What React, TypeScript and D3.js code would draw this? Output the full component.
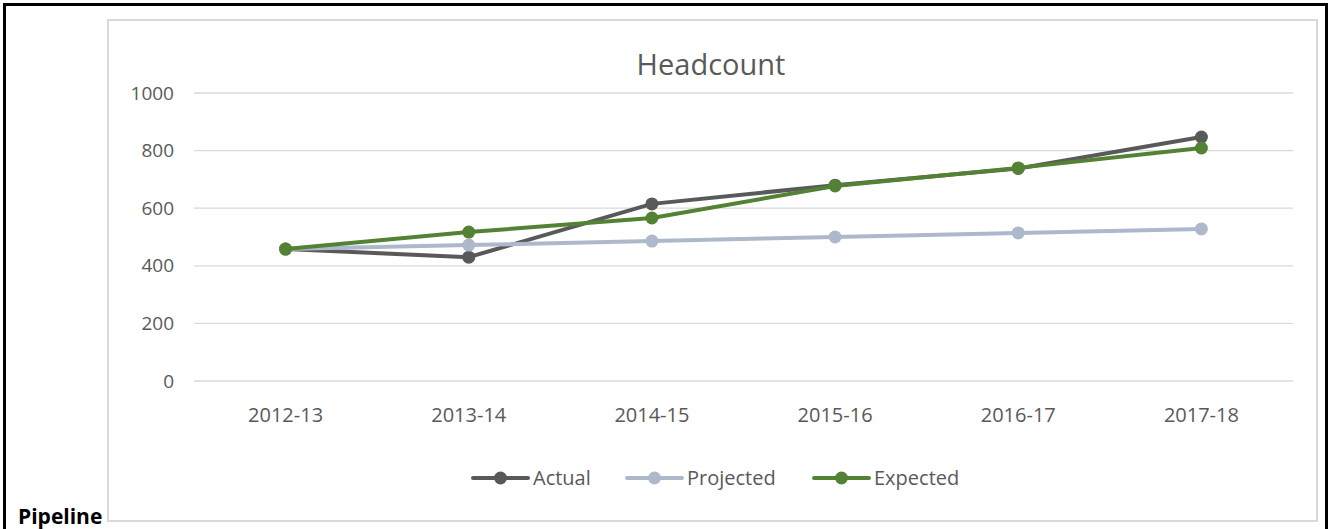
import { useEffect, useRef } from "react";
import * as d3 from "d3";

const categories = ["2012-13", "2013-14", "2014-15", "2015-16", "2016-17", "2017-18"];
const actual = [458, 430, 615, 680, 738, 847];
const projected = [458, 472, 486, 500, 514, 528];
const expected = [458, 517, 566, 677, 740, 809];
const yTicks = [0, 200, 400, 600, 800, 1000];

const width = 1331;
const height = 529;
const plotLeft = 194;
const plotRight = 1293;
const plotTop = 93;
const plotBottom = 381;
const font = "'Open Sans', 'Noto Sans', sans-serif";
const textColor = "#595959";

const series = [
  { name: "Actual", values: actual, color: "#595959" },
  { name: "Projected", values: projected, color: "#adb9ca" },
  { name: "Expected", values: expected, color: "#548235" },
];

const App = () => {
  const axisRef = useRef<SVGGElement>(null);

  const xScale = d3.scaleBand().domain(categories).range([plotLeft, plotRight]);
  const yScale = d3.scaleLinear().domain([0, 1000]).range([plotBottom, plotTop]);

  const line = d3
    .line<number>()
    .x((_, i) => (xScale(categories[i]) ?? 0) + xScale.bandwidth() / 2)
    .y((d) => yScale(d));

  useEffect(() => {
    // y axis labels only, gridlines are drawn below
    const g = d3.select(axisRef.current);
    g.call(
      d3.axisLeft(yScale).tickValues(yTicks).tickFormat(d3.format("d")).tickSize(0).tickPadding(20) as any
    );
    g.select(".domain").remove();
    g.selectAll("text")
      .attr("font-size", "19px")
      .attr("font-family", font)
      .attr("fill", textColor);
  }, []);

  // legend positions
  const legendX = [473, 627, 814];

  return (
    <svg
      width={width}
      height={height}
      style={{ position: "absolute", left: 0, top: 0 }}
    >
      <rect x={0} y={0} width={width} height={height} fill="#fff" />
      <rect x={4.5} y={4.5} width={1322} height={540} fill="none" stroke="#000" strokeWidth={3} />
      <rect x={108} y={20} width={1209} height={501} fill="#fff" stroke="#d9d9d9" strokeWidth={2} />

      <text x={711} y={75} textAnchor="middle" fontFamily={font} fontSize={29} fill={textColor}>
        Headcount
      </text>

      <g className="grid">
        {yTicks.map((t) => (
          <line key={t} x1={plotLeft} x2={plotRight} y1={yScale(t)} y2={yScale(t)} stroke="#d9d9d9" strokeWidth={1.3} />
        ))}
      </g>
      <g ref={axisRef} transform={`translate(${plotLeft},0)`}></g>

      <g className="x-labels">
        {categories.map((c) => (
          <text
            key={c}
            x={(xScale(c) ?? 0) + xScale.bandwidth() / 2}
            y={422}
            textAnchor="middle"
            fontFamily={font}
            fontSize={20}
            fill={textColor}
          >
            {c}
          </text>
        ))}
      </g>

      {series.map((s) => (
        <g key={s.name}>
          <path d={line(s.values) ?? ""} fill="none" stroke={s.color} strokeWidth={4} strokeLinejoin="round" />
          {s.values.map((v, i) => (
            <circle
              key={i}
              cx={(xScale(categories[i]) ?? 0) + xScale.bandwidth() / 2}
              cy={yScale(v)}
              r={6.5}
              fill={s.color}
            />
          ))}
        </g>
      ))}

      <g className="legend">
        {series.map((s, i) => (
          <g key={s.name} transform={`translate(${legendX[i]},478)`}>
            <line x1={0} x2={55} y1={0} y2={0} stroke={s.color} strokeWidth={4} strokeLinecap="round" />
            <circle cx={27.5} cy={0} r={6.5} fill={s.color} />
            <text x={60} y={7} fontFamily={font} fontSize={20} fill={textColor}>
              {s.name}
            </text>
          </g>
        ))}
      </g>

      <text x={18} y={524} fontFamily={font} fontWeight="bold" fontSize={21} fill="#000">
        Pipeline
      </text>
    </svg>
  );
};

export default App;
